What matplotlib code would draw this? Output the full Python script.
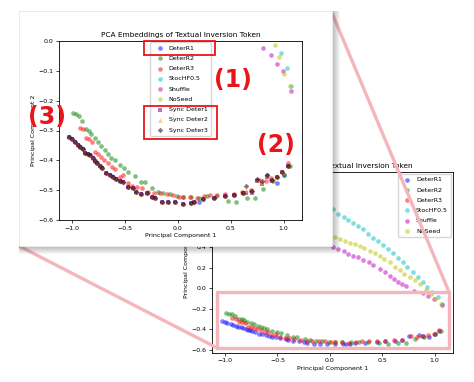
import matplotlib
matplotlib.use("Agg")
import matplotlib.pyplot as plt
from matplotlib.patches import Rectangle
from matplotlib.lines import Line2D

# Data
deter1_x = [-1.026, -1.004, -0.978, -0.947, -0.924, -0.900, -0.876, -0.851, -0.829, -0.804,
            -0.781, -0.762, -0.740, -0.718, -0.676, -0.645, -0.613, -0.581, -0.550, -0.518,
            -0.476, -0.423, -0.400, -0.350, -0.295, -0.248, -0.216, -0.152, -0.090, -0.026,
            0.047, 0.124, 0.155, 0.196, 0.238, 0.339, 0.450, 0.530, 0.619, 0.690,
            0.752, 0.848, 0.886, 0.942, 1.000, 1.044]
deter1_y = [-0.321, -0.330, -0.338, -0.349, -0.354, -0.362, -0.374, -0.379, -0.382, -0.393,
            -0.401, -0.410, -0.418, -0.427, -0.444, -0.449, -0.455, -0.463, -0.469, -0.474,
            -0.488, -0.494, -0.505, -0.513, -0.510, -0.522, -0.527, -0.540, -0.538, -0.538,
            -0.546, -0.543, -0.538, -0.538, -0.531, -0.527, -0.518, -0.516, -0.508, -0.504,
            -0.467, -0.450, -0.466, -0.475, -0.449, -0.418]

deter2_x = [-0.994, -0.962, -0.937, -0.908, -0.867, -0.842, -0.819, -0.788, -0.756, -0.724,
            -0.690, -0.661, -0.629, -0.597, -0.550, -0.509, -0.470, -0.407, -0.350, -0.311,
            -0.242, -0.185, -0.137, -0.073, -0.010, 0.047, 0.120, 0.200, 0.280, 0.360,
            0.472, 0.555, 0.650, 0.727, 0.810, 0.900, 1.006, 1.060]
deter2_y = [-0.240, -0.246, -0.252, -0.269, -0.296, -0.302, -0.313, -0.324, -0.338, -0.351,
            -0.366, -0.380, -0.391, -0.399, -0.415, -0.427, -0.438, -0.453, -0.474, -0.474,
            -0.493, -0.505, -0.510, -0.514, -0.518, -0.522, -0.522, -0.525, -0.520, -0.520,
            -0.535, -0.538, -0.527, -0.527, -0.497, -0.470, -0.449, -0.420]

deter3_x = [-0.930, -0.899, -0.867, -0.842, -0.813, -0.781, -0.756, -0.724, -0.699, -0.661,
            -0.623, -0.591, -0.550, -0.518, -0.476, -0.432, -0.390, -0.343, -0.280, -0.223,
            -0.169, -0.105, -0.042, 0.010, 0.053, 0.117, 0.181, 0.250, 0.308, 0.371,
            0.450, 0.530, 0.610, 0.690, 0.770, 0.830, 0.880, 0.936, 0.990, 1.044]
deter3_y = [-0.293, -0.296, -0.324, -0.329, -0.338, -0.373, -0.380, -0.388, -0.399, -0.410,
            -0.421, -0.429, -0.455, -0.449, -0.477, -0.485, -0.488, -0.492, -0.505, -0.508,
            -0.510, -0.514, -0.516, -0.524, -0.524, -0.524, -0.527, -0.520, -0.516, -0.516,
            -0.513, -0.513, -0.505, -0.500, -0.465, -0.470, -0.460, -0.455, -0.440, -0.410]

stoc_x = [0.03, 0.08, 0.13, 0.17, 0.22, 0.27, 0.32, 0.36, 0.41, 0.46, 0.51, 0.55,
          0.60, 0.65, 0.70, 0.74, 0.79, 0.84, 0.89, 0.93, 0.974, 1.03, 1.07]
stoc_y = [0.77, 0.72, 0.69, 0.66, 0.63, 0.60, 0.57, 0.53, 0.49, 0.46, 0.42, 0.38,
          0.34, 0.29, 0.25, 0.21, 0.16, 0.11, 0.06, 0.01, -0.041, -0.09, -0.15]

shuffle_x = [0.03, 0.08, 0.13, 0.17, 0.22, 0.27, 0.32, 0.37, 0.41, 0.48, 0.53, 0.57,
             0.61, 0.65, 0.69, 0.73, 0.806, 0.886, 0.936, 0.993, 1.072]
shuffle_y = [0.40, 0.38, 0.36, 0.33, 0.31, 0.30, 0.27, 0.25, 0.23, 0.19, 0.16, 0.12,
             0.09, 0.06, 0.04, 0.02, -0.025, -0.047, -0.076, -0.101, -0.167]

noseed_x = [0.05, 0.10, 0.14, 0.19, 0.24, 0.29, 0.33, 0.38, 0.43, 0.48, 0.52, 0.57,
            0.62, 0.67, 0.71, 0.76, 0.81, 0.86, 0.917, 0.961, 1.006, 1.063]
noseed_y = [0.50, 0.48, 0.46, 0.44, 0.43, 0.41, 0.39, 0.36, 0.34, 0.31, 0.28, 0.25,
            0.21, 0.18, 0.14, 0.11, 0.08, 0.04, -0.015, -0.053, -0.109, -0.150]

sync_x = [-1.026, -1.004, -0.978, -0.947, -0.924, -0.900, -0.876, -0.851, -0.829, -0.804,
          -0.781, -0.762, -0.740, -0.718, -0.676, -0.645, -0.613, -0.581, -0.550, -0.518,
          -0.476, -0.423, -0.400, -0.350, -0.295, -0.248, -0.216, -0.152, -0.090, -0.026,
          0.047, 0.124, 0.155, 0.238, 0.339, 0.450, 0.530, 0.619, 0.641, 0.700,
          0.752, 0.800, 0.848, 0.895, 0.936, 0.990, 1.044]
sync1_y = [-0.321, -0.330, -0.338, -0.349, -0.354, -0.362, -0.374, -0.379, -0.382, -0.393,
           -0.401, -0.410, -0.418, -0.427, -0.444, -0.449, -0.455, -0.463, -0.469, -0.474,
           -0.488, -0.494, -0.505, -0.513, -0.510, -0.522, -0.527, -0.540, -0.538, -0.538,
           -0.546, -0.543, -0.538, -0.531, -0.527, -0.518, -0.516, -0.508, -0.510, -0.510,
           -0.470, -0.480, -0.455, -0.468, -0.455, -0.440, -0.418]
sync2_y = [-0.321, -0.330, -0.338, -0.349, -0.354, -0.362, -0.374, -0.379, -0.382, -0.393,
           -0.401, -0.410, -0.418, -0.427, -0.444, -0.449, -0.455, -0.463, -0.469, -0.474,
           -0.488, -0.494, -0.505, -0.513, -0.510, -0.522, -0.527, -0.540, -0.538, -0.538,
           -0.546, -0.543, -0.538, -0.531, -0.527, -0.518, -0.516, -0.508, -0.500, -0.502,
           -0.467, -0.471, -0.450, -0.467, -0.455, -0.440, -0.418]
sync3_y = [-0.321, -0.330, -0.338, -0.349, -0.354, -0.362, -0.374, -0.379, -0.382, -0.393,
           -0.401, -0.410, -0.418, -0.427, -0.444, -0.449, -0.455, -0.463, -0.469, -0.474,
           -0.488, -0.494, -0.505, -0.513, -0.510, -0.522, -0.527, -0.540, -0.538, -0.538,
           -0.546, -0.543, -0.538, -0.531, -0.527, -0.518, -0.516, -0.508, -0.486, -0.504,
           -0.463, -0.470, -0.448, -0.467, -0.455, -0.440, -0.418]

series = [
    ("DeterR1", deter1_x, deter1_y, "blue"),
    ("DeterR2", deter2_x, deter2_y, "green"),
    ("DeterR3", deter3_x, deter3_y, "red"),
    ("StocHF0.5", stoc_x, stoc_y, "c"),
    ("Shuffle", shuffle_x, shuffle_y, "m"),
    ("NoSeed", noseed_x, noseed_y, "y"),
]
sync_series = [
    ("Sync Deter1", sync1_y, "purple", "s", 9),
    ("Sync Deter2", sync2_y, "orange", "^", 10),
    ("Sync Deter3", sync3_y, "#2a0a0a", "D", 8),
]

title = "PCA Embeddings of Textual Inversion Token"

# Style
plt.rcParams["font.size"] = 4.5
plt.rcParams["axes.linewidth"] = 0.6
for a in ("xtick", "ytick"):
    plt.rcParams[f"{a}.major.size"] = 2
    plt.rcParams[f"{a}.major.width"] = 0.5
    plt.rcParams[f"{a}.major.pad"] = 2
title_size = 5.3
W, H = 474, 382
pink = "#f4b6bb"
leg_kw = dict(fontsize=4.5, handletextpad=0.4, borderpad=0.5, labelspacing=0.78)


def fbox(x0, y0, x1, y1):
    # pixel box (top-left origin) -> figure fraction [l, b, w, h]
    return [x0 / W, 1 - y1 / H, (x1 - x0) / W, (y1 - y0) / H]


fig = plt.figure(figsize=(W / 100, H / 100), dpi=100)

# Background (full) plot
ax = fig.add_axes(fbox(212, 172, 453, 352.5), zorder=0)
for name, xs, ys, col in series:
    ax.scatter(xs, ys, s=11, color=col, alpha=0.5, linewidths=0, label=name)
ax.set_xlim(-1.125, 1.175)
ax.set_ylim(-0.624, 1.128)
ax.set_yticks([-0.6, -0.4, -0.2, 0.0, 0.2, 0.4, 0.6, 0.8, 1.0])
ax.set_xticks([-1.0, -0.5, 0.0, 0.5, 1.0])
ax.set_title(title, fontsize=title_size, pad=3)
ax.set_xlabel("Principal Component 1", labelpad=2)
ax.set_ylabel("Principal Component 2", labelpad=2)
ax.legend(loc="upper right", borderaxespad=0.3, **leg_kw)

# zoom box on the background plot
zx0, zx1, zy0, zy1 = -1.079, 1.136, -0.578, -0.034
ax.add_patch(Rectangle((zx0, zy0), zx1 - zx0, zy1 - zy0, fill=False,
                       edgecolor=pink, linewidth=2.4, zorder=6, clip_on=False))

to_fig = lambda p: fig.transFigure.inverted().transform(ax.transData.transform(p))
bl = to_fig((zx0, zy0))
tr = to_fig((zx1, zy1))

# inset panel with shadow
px0, py0, px1, py1 = 19, 11, 332, 246
for i in range(7, 0, -1):
    fig.add_artist(Rectangle((px0 / W, 1 - (py1 + 1 + i) / H),
                             (px1 - px0 + 1 + i) / W, (py1 - py0 + 1 + i) / H,
                             transform=fig.transFigure, facecolor="black",
                             edgecolor="none", alpha=0.035, zorder=2))
fig.add_artist(Rectangle((px0 / W, 1 - py1 / H), (px1 - px0) / W, (py1 - py0) / H,
                         transform=fig.transFigure, facecolor="white",
                         edgecolor="#eeeeee", linewidth=0.5, zorder=2.1))

# connector lines
fig.add_artist(Line2D([px0 / W, bl[0]], [1 - py1 / H, bl[1]], transform=fig.transFigure,
                      color=pink, linewidth=2.4, zorder=1, solid_capstyle="butt"))
fig.add_artist(Line2D([px1 / W, tr[0]], [1 - (py0 + 2) / H, tr[1]], transform=fig.transFigure,
                      color=pink, linewidth=2.4, zorder=1, solid_capstyle="butt"))

# Inset (zoomed) plot
ai = fig.add_axes(fbox(59, 41, 302, 220), zorder=3)
for name, xs, ys, col in series:
    ai.scatter(xs, ys, s=11, color=col, alpha=0.5, linewidths=0, label=name)
for name, ys, col, mk, sz in sync_series:
    ai.scatter(sync_x, ys, s=sz, color=col, marker=mk, alpha=0.55, linewidths=0, label=name)
ai.set_xlim(-1.125, 1.175)
ai.set_ylim(-0.6, 0.0)
ai.set_xticks([-1.0, -0.5, 0.0, 0.5, 1.0])
ai.set_yticks([-0.6, -0.5, -0.4, -0.3, -0.2, -0.1, 0.0])
ai.set_title(title, fontsize=title_size, pad=3)
ai.set_xlabel("Principal Component 1", labelpad=2)
ai.set_ylabel("Principal Component 2", labelpad=2)
ai.legend(loc="upper center", borderaxespad=0.2, **leg_kw)

# red annotation boxes and labels
for (x0, y0, x1, y1) in [(0.35, 0.922, 0.642, 1.0), (0.35, 0.453, 0.650, 0.637)]:
    ai.add_patch(Rectangle((x0, y0), x1 - x0, y1 - y0, transform=ai.transAxes,
                           fill=False, edgecolor="#e8151b", linewidth=1.3,
                           zorder=10, clip_on=False))
for txt, x, y in [("(1)", 0.716, 0.782), ("(2)", 0.893, 0.419), ("(3)", -0.051, 0.573)]:
    ai.text(x, y, txt, transform=ai.transAxes, color="#e8151b", fontsize=17,
            fontweight="bold", ha="center", va="center", zorder=11, clip_on=False)

fig.savefig("out.png", dpi=100)
